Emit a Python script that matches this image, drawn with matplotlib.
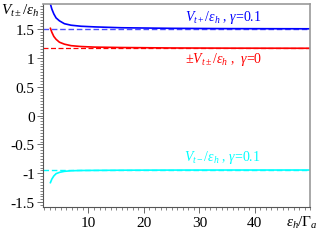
import numpy as np
import matplotlib
matplotlib.use('Agg')
from matplotlib import pyplot as plt
from matplotlib.ticker import MultipleLocator

plt.rcParams['font.family'] = 'Liberation Serif'
plt.rcParams['mathtext.fontset'] = 'custom'
plt.rcParams['mathtext.rm'] = 'Liberation Serif'
plt.rcParams['mathtext.it'] = 'Liberation Serif:italic'
plt.rcParams['mathtext.fallback'] = 'stix'

# values
x_pts  = [3.14, 3.39, 3.75, 4.16, 4.76, 5.66, 6.86, 8.67, 11.1, 15.9, 25.0, 35.0, 50.0]
blue_y = [1.93, 1.845, 1.76, 1.69, 1.64, 1.59, 1.564, 1.546, 1.535, 1.52, 1.51, 1.505, 1.502]
red_y  = [1.51, 1.443, 1.37, 1.32, 1.27, 1.236, 1.21, 1.195, 1.185, 1.178, 1.17, 1.167, 1.165]
cyan_y = [-1.16, -1.10, -1.045, -1.005, -0.983, -0.965, -0.955, -0.950, -0.948, -0.945, -0.943, -0.942, -0.942]
blue_asym = 1.5
red_asym  = 1.162
cyan_asym = -0.94
xlim = (1.8, 50.0)

fig = plt.figure(figsize=(3.32, 2.53), dpi=100)
ax = fig.add_axes([0.1295, 0.176, 0.805, 0.804])

ax.plot(xlim, [blue_asym]*2, '--', color='#4d4dff', lw=1.0, dashes=(4, 2))
ax.plot(xlim, [red_asym]*2, '--', color='red', lw=0.9, dashes=(4, 2))
ax.plot(xlim, [cyan_asym]*2, '--', color='cyan', lw=1.0, dashes=(4, 2))
ax.plot(x_pts, blue_y, color='blue', lw=1.2)
ax.plot(x_pts, red_y, color='red', lw=1.2)
ax.plot(x_pts, cyan_y, color='cyan', lw=1.2)

ax.set_xlim(*xlim)
ax.set_ylim(-1.59, 1.93)
ax.xaxis.set_minor_locator(MultipleLocator(1))
ax.yaxis.set_minor_locator(MultipleLocator(0.05))
ax.set_xticks([10, 20, 30, 40])
ax.set_yticks([-1.5, -1, -0.5, 0, 0.5, 1, 1.5])
ax.set_yticklabels(['-1.5', '-1', '-0.5', '0', '0.5', '1', '1.5'])
ax.tick_params(labelsize=11, length=4, width=0.6, color='#555555', pad=2)
ax.tick_params(which='minor', length=2, width=0.5, color='#555555')
for s in ['top', 'right']:
    ax.spines[s].set_color('#999999')
    ax.spines[s].set_linewidth(1.2)
for s in ['left', 'bottom']:
    ax.spines[s].set_color('#555555')
    ax.spines[s].set_linewidth(0.8)

fig.text(223/332, 1-18/253, r'$V_{t+}/\varepsilon_h$ , $\gamma$=0.1', color='blue',
         fontsize=10, ha='center', va='center')
fig.text(224/332, 1-59/253, r'$\pm V_{t\pm}/\varepsilon_h$ ,  $\gamma$=0', color='red',
         fontsize=10, ha='center', va='center')
fig.text(222/332, 1-158/253, r'$V_{t-}/\varepsilon_h$ , $\gamma$=0.1', color='cyan',
         fontsize=10, ha='center', va='center')
fig.text(20/332, 1-11/253, r'$V_{t\pm}/\varepsilon_h$', fontsize=11, ha='center', va='center')
fig.text(302/332, 1-223/253, r'$\varepsilon_h/\Gamma_a$', fontsize=11, ha='center', va='center')

plt.savefig('out.png', dpi=100)
